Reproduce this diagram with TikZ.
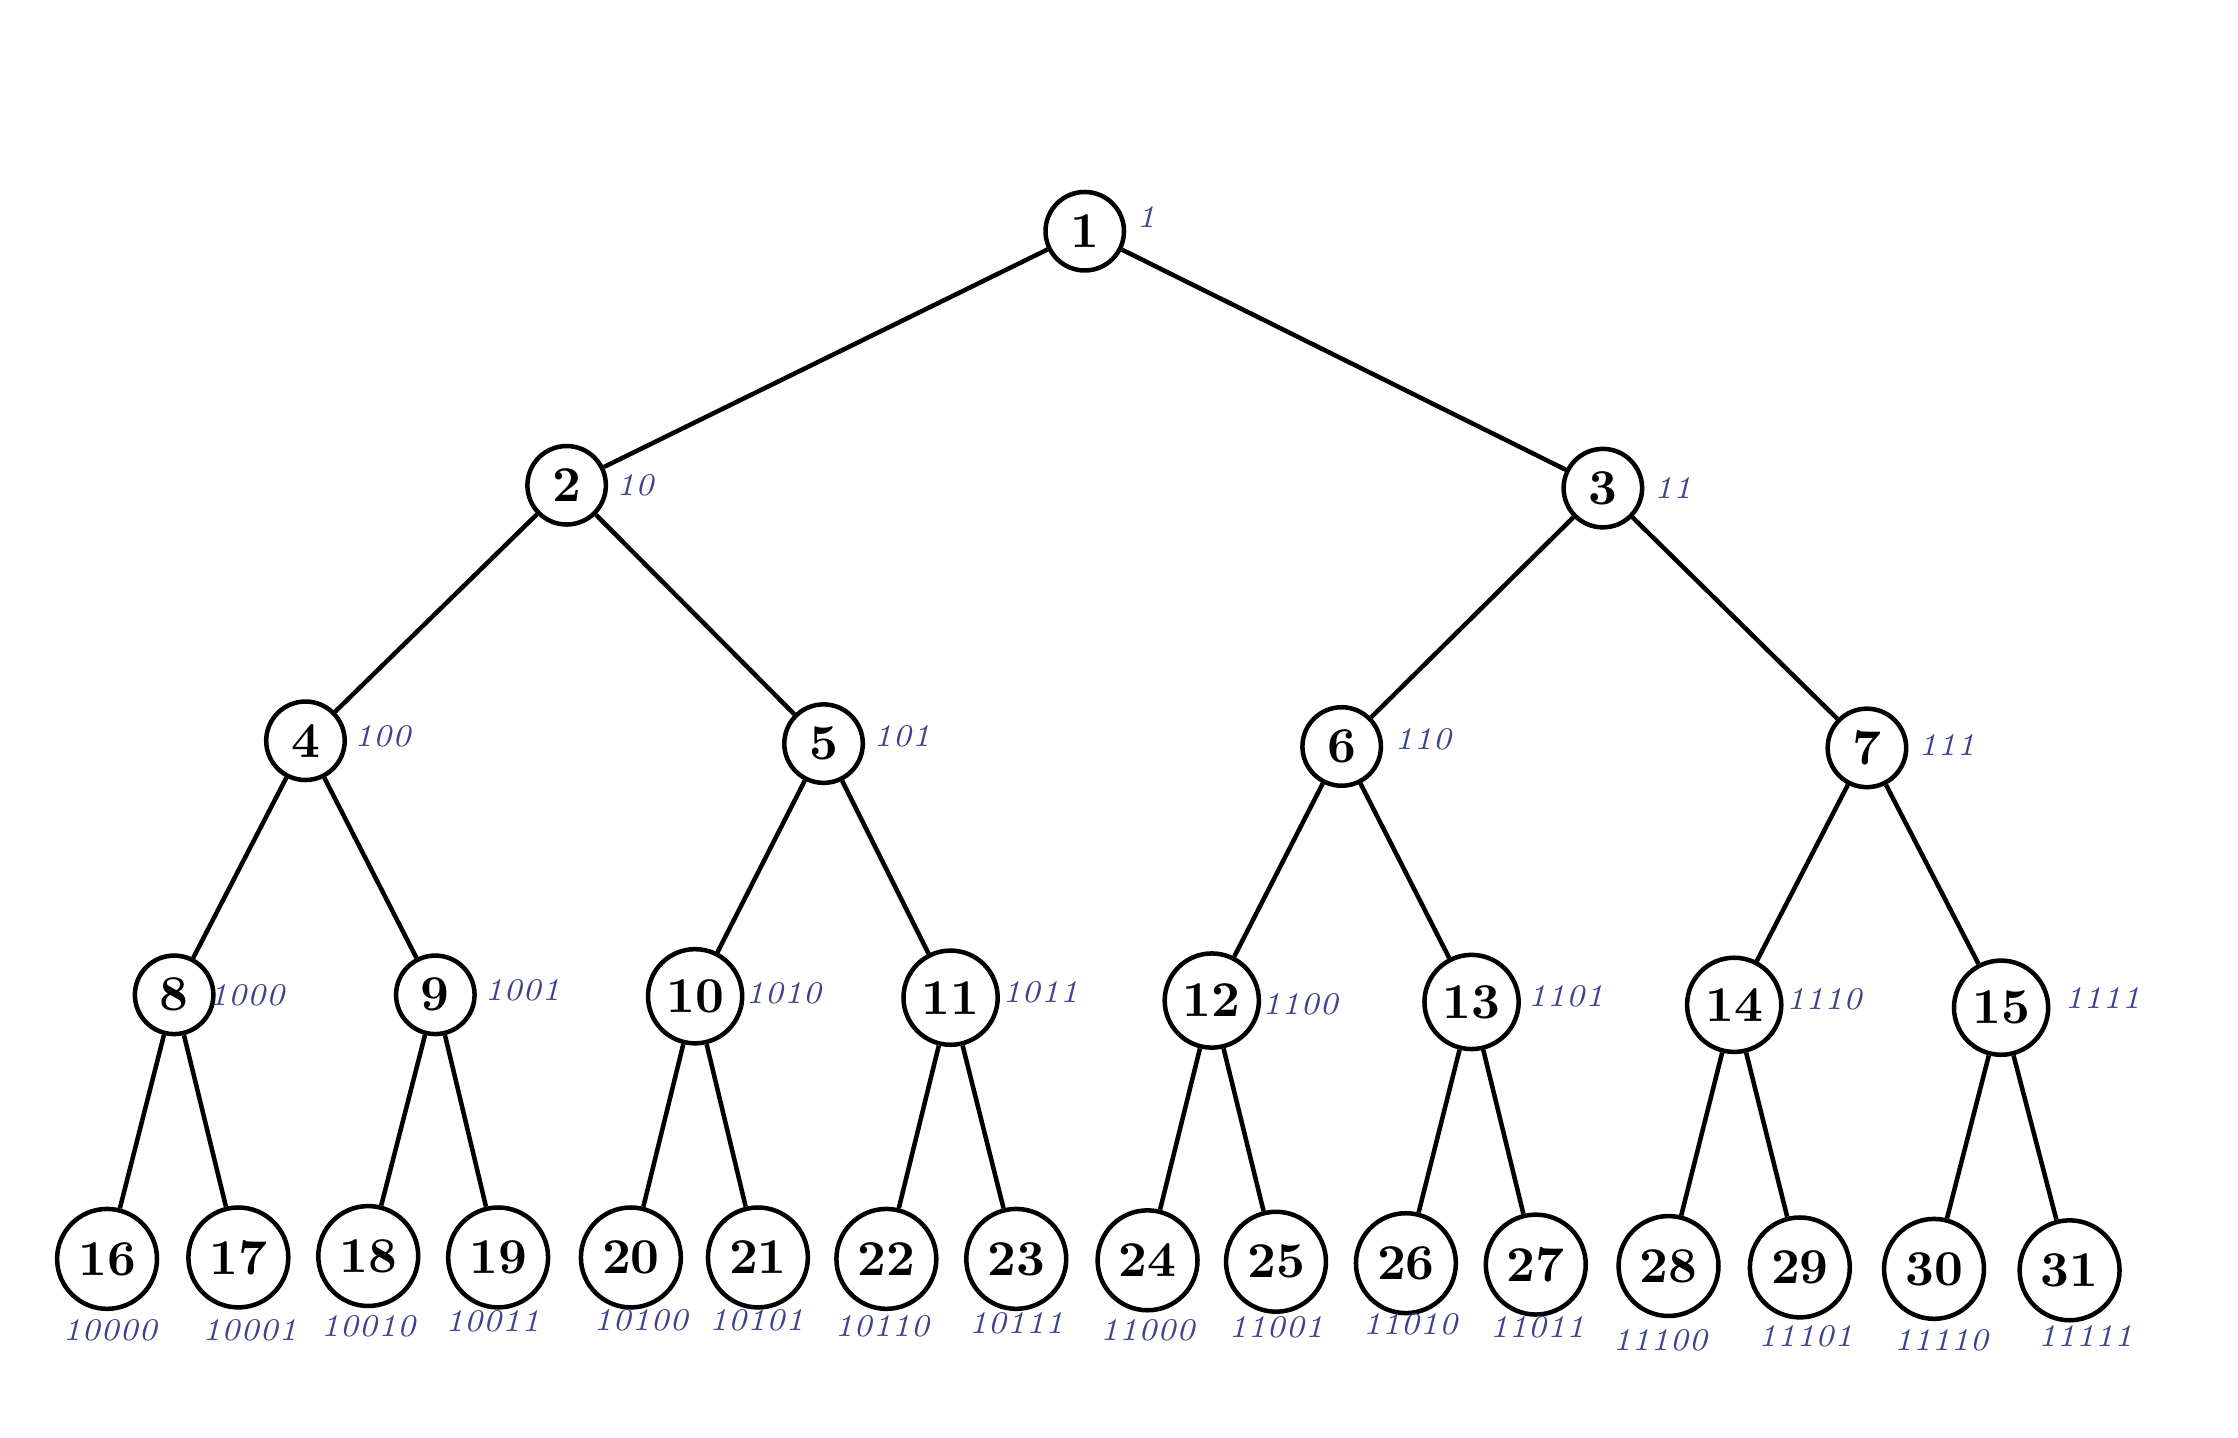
\documentclass[tikz,border=0pt]{standalone}
\usepackage{amsmath}
\usepackage{xcolor}
\usepackage{tikz}

\definecolor{ink}{RGB}{62,66,140}

\begin{document}
\begin{tikzpicture}
        \tikzstyle{place}=[circle, draw=black, line width=0.9pt, inner sep=1pt, minimum size=5.5mm, font=\normalsize\bfseries]
        \tikzstyle{wide}=[place, minimum size=6.6mm]
        \tikzstyle{leaf}=[place, minimum size=7mm]
        \tikzstyle{code}=[inner sep=0pt, text=ink, font=\fontsize{6.3}{7}\selectfont\itshape]

        \useasboundingbox (0,0) rectangle (15.68,10.07);

        % Level 0
        \draw node at (7.60, 8.45) [place] (heap_1) {1};

        % Level 1
        \draw node at (3.97, 6.67) [place] (heap_2) {2};
        \draw node at (11.23, 6.65) [place] (heap_3) {3};

        % Level 2
        \draw node at (2.14, 4.88) [place] (heap_4) {4};
        \draw node at (5.77, 4.86) [place] (heap_5) {5};
        \draw node at (9.40, 4.84) [place] (heap_6) {6};
        \draw node at (13.08, 4.83) [place] (heap_7) {7};

        % Level 3
        \draw node at (1.22, 3.10) [place] (heap_8) {8};
        \draw node at (3.05, 3.10) [place] (heap_9) {9};
        \draw node at (4.87, 3.09) [wide] (heap_10) {10};
        \draw node at (6.66, 3.08) [wide] (heap_11) {11};
        \draw node at (8.49, 3.06) [wide] (heap_12) {12};
        \draw node at (10.31, 3.05) [wide] (heap_13) {13};
        \draw node at (12.15, 3.03) [wide] (heap_14) {14};
        \draw node at (14.02, 3.01) [wide] (heap_15) {15};

        % Level 4
        \draw node at (0.75, 1.25) [leaf] (heap_16) {16};
        \draw node at (1.67, 1.26) [leaf] (heap_17) {17};
        \draw node at (2.58, 1.27) [leaf] (heap_18) {18};
        \draw node at (3.49, 1.26) [leaf] (heap_19) {19};
        \draw node at (4.42, 1.26) [leaf] (heap_20) {20};
        \draw node at (5.31, 1.26) [leaf] (heap_21) {21};
        \draw node at (6.21, 1.25) [leaf] (heap_22) {22};
        \draw node at (7.12, 1.25) [leaf] (heap_23) {23};
        \draw node at (8.04, 1.24) [leaf] (heap_24) {24};
        \draw node at (8.94, 1.23) [leaf] (heap_25) {25};
        \draw node at (9.85, 1.22) [leaf] (heap_26) {26};
        \draw node at (10.76, 1.21) [leaf] (heap_27) {27};
        \draw node at (11.69, 1.20) [leaf] (heap_28) {28};
        \draw node at (12.61, 1.19) [leaf] (heap_29) {29};
        \draw node at (13.55, 1.18) [leaf] (heap_30) {30};
        \draw node at (14.50, 1.17) [leaf] (heap_31) {31};

        % Binary codes
        \draw node at (8.03, 8.55) [code] (bin_1) {1};
        \draw node at (4.45, 6.67) [code] (bin_2) {10};
        \draw node at (11.72, 6.65) [code] (bin_3) {11};
        \draw node at (2.68, 4.91) [code] (bin_4) {100};
        \draw node at (6.32, 4.91) [code] (bin_5) {101};
        \draw node at (9.97, 4.89) [code] (bin_6) {110};
        \draw node at (13.64, 4.85) [code] (bin_7) {111};
        \draw node at (1.73, 3.10) [code] (bin_8) {1000};
        \draw node at (3.66, 3.13) [code] (bin_9) {1001};
        \draw node at (5.49, 3.11) [code] (bin_10) {1010};
        \draw node at (7.29, 3.12) [code] (bin_11) {1011};
        \draw node at (9.11, 3.03) [code] (bin_12) {1100};
        \draw node at (10.97, 3.09) [code] (bin_13) {1101};
        \draw node at (12.78, 3.07) [code] (bin_14) {1110};
        \draw node at (14.73, 3.08) [code] (bin_15) {1111};
        \draw node at (0.77, 0.75) [code] (bin_16) {10000};
        \draw node at (1.75, 0.75) [code] (bin_17) {10001};
        \draw node at (2.58, 0.78) [code] (bin_18) {10010};
        \draw node at (3.45, 0.81) [code] (bin_19) {10011};
        \draw node at (4.49, 0.82) [code] (bin_20) {10100};
        \draw node at (5.30, 0.82) [code] (bin_21) {10101};
        \draw node at (6.18, 0.78) [code] (bin_22) {10110};
        \draw node at (7.12, 0.80) [code] (bin_23) {10111};
        \draw node at (8.04, 0.75) [code] (bin_24) {11000};
        \draw node at (8.94, 0.77) [code] (bin_25) {11001};
        \draw node at (9.88, 0.79) [code] (bin_26) {11010};
        \draw node at (10.77, 0.77) [code] (bin_27) {11011};
        \draw node at (11.63, 0.68) [code] (bin_28) {11100};
        \draw node at (12.65, 0.71) [code] (bin_29) {11101};
        \draw node at (13.60, 0.68) [code] (bin_30) {11110};
        \draw node at (14.61, 0.71) [code] (bin_31) {11111};

        % Parent -> children
        \foreach \i in {1,...,15}{
            \pgfmathtruncatemacro{\l}{2*\i}
            \pgfmathtruncatemacro{\r}{2*\i+1}
            \draw [line width=0.9pt] (heap_\i) -- (heap_\l);
            \draw [line width=0.9pt] (heap_\i) -- (heap_\r);
        }

\end{tikzpicture}
\end{document}
